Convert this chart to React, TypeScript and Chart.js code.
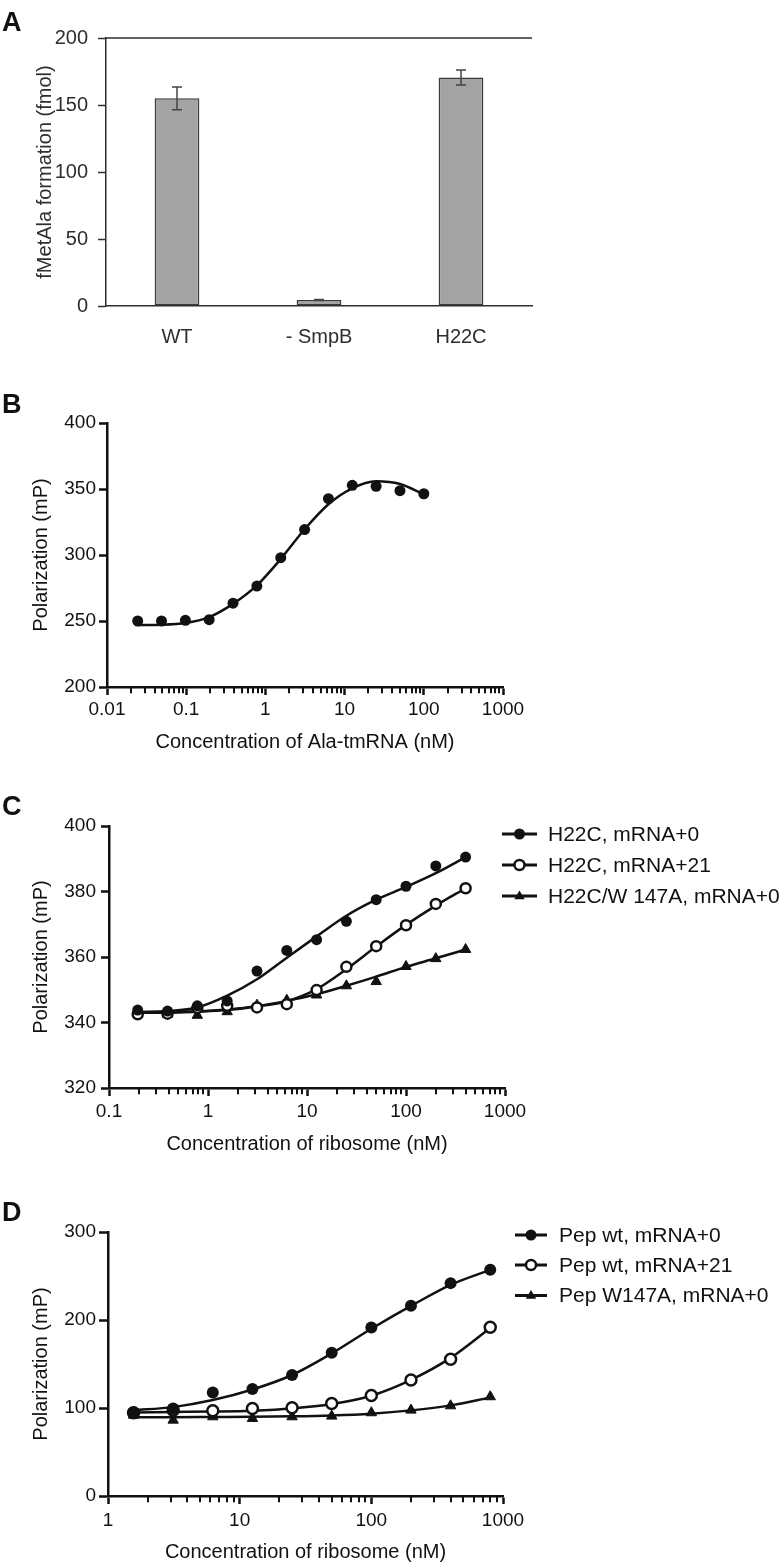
import React, { useEffect, useRef } from "react";
import { Chart, registerables } from "chart.js";
Chart.register(...registerables);

const FONT = "'Liberation Sans', Arial, Helvetica, sans-serif";
const INK = "#111111";
const INK_A = "#2e2e2e";

// ---------- Panel A data ----------
const catsA = ["WT", "- SmpB", "H22C"];
const valsA = [155, 4.5, 170.5];
const errA = [8.5, 0.4, 5.6];
const yTicksA = [0, 50, 100, 150, 200];

// ---------- Panel B data ----------
const concB = [0.0244, 0.0488, 0.0977, 0.195, 0.39, 0.78, 1.5625, 3.125, 6.25, 12.5, 25, 50, 100];
const polB = [250, 250, 250.5, 251, 263.5, 276.5, 298, 319.3, 342.7, 352.8, 352, 348.7, 346.4];
const fitB = [247, 247.2, 248.5, 253, 263, 277, 297, 319.5, 338.5, 350.5, 355.8, 353.8, 346];
const xTicksB = [0.01, 0.1, 1, 10, 100, 1000];
const xTickLabelsB = ["0.01", "0.1", "1", "10", "100", "1000"];
const yTicksB = [200, 250, 300, 350, 400];

// ---------- Panel C data ----------
const concC = [0.195, 0.39, 0.78, 1.5625, 3.125, 6.25, 12.5, 25, 50, 100, 200, 400];
const c_h22c_0 = [343.8, 343.5, 345.1, 346.6, 355.7, 362.0, 365.3, 370.9, 377.5, 381.6, 387.8, 390.5];
const c_h22c_21 = [342.5, 342.7, 344.4, 345.1, 344.6, 345.6, 349.9, 357.0, 363.3, 369.7, 376.2, 381.0];
const c_w147a = [343.0, 342.5, 342.2, 343.3, 345.3, 346.8, 348.4, 351.2, 352.5, 357.1, 359.5, 362.3];
const fitC_0 = [343.2, 343.5, 344.6, 348.2, 353.2, 359.8, 366.3, 372.6, 377.5, 381.4, 385.6, 390.5];
const fitC_21 = [343, 343, 343.3, 343.8, 344.9, 346.5, 350.2, 356.3, 363.2, 369.8, 375.7, 381];
const fitC_w = [343, 343.1, 343.4, 344, 345, 346.6, 348.6, 351.2, 354, 357, 359.6, 362.3];
const labelsC = ["H22C, mRNA+0", "H22C, mRNA+21", "H22C/W 147A, mRNA+0"];
const xTicksC = [0.1, 1, 10, 100, 1000];
const xTickLabelsC = ["0.1", "1", "10", "100", "1000"];
const yTicksC = [320, 340, 360, 380, 400];

// ---------- Panel D data ----------
const concD = [1.5625, 3.125, 6.25, 12.5, 25, 50, 100, 200, 400, 800];
const d_wt0 = [95, 99.5, 117.7, 121.5, 137.5, 162.9, 191.4, 216.1, 241.9, 257.1];
const d_wt21 = [94.6, 97.6, 96.8, 99.5, 100.3, 105.2, 114.3, 131.8, 155.3, 191.8];
const d_w147a = [91.9, 86.2, 90, 88.1, 90, 90.8, 94.6, 97.6, 102.5, 112.8];
const fitD_0 = [97.5, 101, 109, 121, 137.5, 162, 190, 216, 240, 257];
const fitD_21 = [95, 95.5, 96, 97, 99.5, 104.5, 114, 132, 157, 191];
const fitD_w = [89.5, 89.6, 89.8, 90, 90.5, 91.5, 93.5, 97.3, 103, 112];
const labelsD = ["Pep wt, mRNA+0", "Pep wt, mRNA+21", "Pep W147A, mRNA+0"];
const xTicksD = [1, 10, 100, 1000];
const xTickLabelsD = ["1", "10", "100", "1000"];
const yTicksD = [0, 100, 200, 300];

const minorMultipliers = [2, 3, 4, 5, 6, 7, 8, 9];
const markerStyles = ["filled", "open", "triangle"];

// ---------- plugins ----------
const errorBarPlugin = {
  id: "errorBarsA",
  afterDatasetsDraw(chart: any) {
    const { ctx } = chart;
    const x = chart.scales.x;
    const y = chart.scales.y;
    ctx.save();
    ctx.strokeStyle = "#444";
    ctx.lineWidth = 1.5;
    valsA.forEach((v, i) => {
      const px = x.getPixelForValue(i);
      const t = y.getPixelForValue(v + errA[i]);
      const b = y.getPixelForValue(v - errA[i]);
      ctx.beginPath();
      ctx.moveTo(px, t);
      ctx.lineTo(px, b);
      ctx.moveTo(px - 5, t);
      ctx.lineTo(px + 5, t);
      ctx.moveTo(px - 5, b);
      ctx.lineTo(px + 5, b);
      ctx.stroke();
    });
    ctx.restore();
  },
};

const topLinePlugin = {
  id: "topLineA",
  afterDraw(chart: any) {
    const { ctx, chartArea } = chart;
    ctx.save();
    ctx.strokeStyle = INK_A;
    ctx.lineWidth = 1.5;
    ctx.beginPath();
    ctx.moveTo(chartArea.left, chartArea.top);
    ctx.lineTo(chartArea.right, chartArea.top);
    ctx.stroke();
    ctx.restore();
  },
};

function minorTicksPlugin(len: number) {
  return {
    id: "minorTicks",
    afterDraw(chart: any) {
      const { ctx, chartArea } = chart;
      const xs = chart.scales.x;
      const min = xs.min;
      const max = xs.max;
      ctx.save();
      ctx.strokeStyle = INK;
      ctx.lineWidth = 2;
      ctx.beginPath();
      for (let d = Math.floor(Math.log10(min)); d < Math.log10(max); d++) {
        for (const k of minorMultipliers) {
          const v = k * Math.pow(10, d);
          if (v <= min || v >= max) continue;
          const px = Math.round(xs.getPixelForValue(v));
          ctx.moveTo(px, chartArea.bottom);
          ctx.lineTo(px, chartArea.bottom + 1.25 + len);
        }
      }
      ctx.stroke();
      ctx.restore();
    },
  };
}

function drawMarker(ctx: any, style: string, x: number, y: number, r: number) {
  ctx.save();
  ctx.fillStyle = INK;
  ctx.strokeStyle = INK;
  if (style === "filled") {
    ctx.beginPath();
    ctx.arc(x, y, r, 0, Math.PI * 2);
    ctx.fill();
  } else if (style === "open") {
    ctx.beginPath();
    ctx.arc(x, y, r - 0.5, 0, Math.PI * 2);
    ctx.fillStyle = "#fff";
    ctx.fill();
    ctx.lineWidth = 2.5;
    ctx.stroke();
  } else {
    ctx.beginPath();
    ctx.moveTo(x, y - r);
    ctx.lineTo(x + r * 0.95, y + r * 0.6);
    ctx.lineTo(x - r * 0.95, y + r * 0.6);
    ctx.closePath();
    ctx.fill();
  }
  ctx.restore();
}

function legendPlugin(labels: string[], lineX0: number, lineX1: number, textX: number, rowsY: number[]) {
  return {
    id: "customLegend",
    afterDraw(chart: any) {
      const { ctx } = chart;
      labels.forEach((label, i) => {
        const y = rowsY[i];
        ctx.save();
        ctx.strokeStyle = INK;
        ctx.lineWidth = 3;
        ctx.beginPath();
        ctx.moveTo(lineX0, y);
        ctx.lineTo(lineX1, y);
        ctx.stroke();
        ctx.restore();
        drawMarker(ctx, markerStyles[i], (lineX0 + lineX1) / 2, y, 5.5);
        ctx.save();
        ctx.fillStyle = INK;
        ctx.font = `21px ${FONT}`;
        ctx.textAlign = "left";
        ctx.textBaseline = "middle";
        ctx.fillText(label, textX, y + 1);
        ctx.restore();
      });
    },
  };
}

// ---------- helpers ----------
function pts(xs: number[], ys: number[]) {
  return xs.map((x, i) => ({ x, y: ys[i] }));
}

function pointSet(label: string, xs: number[], ys: number[], style: string, r: number) {
  const base: any = {
    label,
    data: pts(xs, ys),
    showLine: false,
    order: 0,
    pointRadius: r,
    pointHoverRadius: r,
  };
  if (style === "filled") {
    return { ...base, pointStyle: "circle", backgroundColor: INK, borderColor: INK, borderWidth: 0 };
  }
  if (style === "open") {
    return { ...base, pointStyle: "circle", pointRadius: r - 0.5, backgroundColor: "#fff", borderColor: INK, borderWidth: 2.5 };
  }
  return { ...base, pointStyle: "triangle", pointRadius: r + 0.5, backgroundColor: INK, borderColor: INK, borderWidth: 1 };
}

function curveSet(xs: number[], ys: number[]) {
  return {
    label: "fit",
    data: pts(xs, ys),
    showLine: true,
    order: 1,
    pointRadius: 0,
    pointHoverRadius: 0,
    borderColor: INK,
    borderWidth: 2.5,
    fill: false,
    cubicInterpolationMode: "monotone",
  };
}

function logX(min: number, max: number, ticks: number[], labels: string[], height: number, title: string, titlePadBottom: number, labelPad: number) {
  return {
    type: "logarithmic",
    position: "bottom",
    min,
    max,
    afterBuildTicks: (s: any) => {
      s.ticks = ticks.map((v) => ({ value: v, major: true }));
    },
    afterFit: (s: any) => {
      s.height = height;
    },
    ticks: {
      autoSkip: false,
      maxRotation: 0,
      padding: labelPad,
      color: INK,
      font: { family: FONT, size: 19 },
      callback: (v: any) => {
        const idx = ticks.findIndex((t) => Math.abs(t - v) / t < 1e-6);
        return idx >= 0 ? labels[idx] : "";
      },
    },
    grid: { drawOnChartArea: false, drawTicks: true, tickLength: 8, tickWidth: 2.5, tickColor: INK },
    border: { display: true, width: 2.5, color: INK },
    title: {
      display: !!title,
      text: title,
      color: INK,
      font: { family: FONT, size: 20 },
      padding: { top: 0, bottom: titlePadBottom },
    },
  };
}

function linY(min: number, max: number, ticks: number[], width: number, title: string, titlePadTop: number, tickLen: number, labelPad: number, color: string, bw: number, fontSize: number) {
  return {
    type: "linear",
    position: "left",
    min,
    max,
    afterBuildTicks: (s: any) => {
      s.ticks = ticks.map((v) => ({ value: v }));
    },
    afterFit: (s: any) => {
      s.width = width;
    },
    ticks: {
      padding: labelPad,
      color,
      font: { family: FONT, size: fontSize },
    },
    grid: { drawOnChartArea: false, drawTicks: true, tickLength: tickLen, tickWidth: bw, tickColor: color },
    border: { display: true, width: bw, color },
    title: {
      display: true,
      text: title,
      color,
      font: { family: FONT, size: 20 },
      padding: { top: titlePadTop, bottom: 0 },
    },
  };
}

const baseOptions = {
  responsive: false,
  maintainAspectRatio: false,
  animation: false,
  events: [],
  devicePixelRatio: 1,
};

// ---------- configs ----------
function configA() {
  return {
    type: "bar",
    data: {
      labels: catsA,
      datasets: [
        {
          label: "fMetAla",
          data: valsA,
          backgroundColor: "#a3a3a3",
          borderColor: "#3a3a3a",
          borderWidth: 1.5,
          borderSkipped: false,
          categoryPercentage: 1,
          barPercentage: 0.315,
        },
      ],
    },
    options: {
      ...baseOptions,
      layout: { padding: { top: 38, right: 248, left: 0, bottom: 0 } },
      plugins: { legend: { display: false }, tooltip: { enabled: false } },
      scales: {
        x: {
          type: "category",
          afterFit: (s: any) => {
            s.height = 64;
          },
          ticks: { padding: 19, color: INK_A, font: { family: FONT, size: 20 } },
          grid: { drawOnChartArea: false, drawTicks: false },
          border: { display: true, width: 1.5, color: INK_A },
        },
        y: linY(0, 200, yTicksA, 106, "fMetAla formation (fmol)", 33, 8, 10, INK_A, 1.5, 20),
      },
    },
    plugins: [errorBarPlugin, topLinePlugin],
  };
}

function configB() {
  return {
    type: "scatter",
    data: {
      datasets: [pointSet("Ala-tmRNA", concB, polB, "filled", 5.5), curveSet(concB, fitB)],
    },
    options: {
      ...baseOptions,
      layout: { padding: { top: 53, right: 277, left: 0, bottom: 0 } },
      plugins: { legend: { display: false }, tooltip: { enabled: false } },
      scales: {
        x: logX(0.01, 1000, xTicksB, xTickLabelsB, 83, "Concentration of Ala-tmRNA (nM)", 16, 3.5),
        y: linY(200, 400, yTicksB, 107, "Polarization (mP)", 29, 8, 3, INK, 2.5, 19),
      },
    },
    plugins: [minorTicksPlugin(5)],
  };
}

function configC() {
  return {
    type: "scatter",
    data: {
      datasets: [
        pointSet(labelsC[0], concC, c_h22c_0, "filled", 5.5),
        pointSet(labelsC[1], concC, c_h22c_21, "open", 5.5),
        pointSet(labelsC[2], concC, c_w147a, "triangle", 5.5),
        curveSet(concC, fitC_0),
        curveSet(concC, fitC_21),
        curveSet(concC, fitC_w),
      ],
    },
    options: {
      ...baseOptions,
      layout: { padding: { top: 56, right: 275, left: 0, bottom: 0 } },
      plugins: { legend: { display: false }, tooltip: { enabled: false } },
      scales: {
        x: logX(0.1, 1000, xTicksC, xTickLabelsC, 82, "Concentration of ribosome (nM)", 14, 4.5),
        y: linY(320, 400, yTicksC, 109, "Polarization (mP)", 29, 8, 5, INK, 2.5, 19),
      },
    },
    plugins: [minorTicksPlugin(5), legendPlugin(labelsC, 502, 537, 548, [64, 95, 126])],
  };
}

function configD() {
  return {
    type: "scatter",
    data: {
      datasets: [
        pointSet(labelsD[0], concD, d_wt0, "filled", 6),
        pointSet(labelsD[1], concD, d_wt21, "open", 6),
        pointSet(labelsD[2], concD, d_w147a, "triangle", 5.5),
        curveSet(concD, fitD_0),
        curveSet(concD, fitD_21),
        curveSet(concD, fitD_w),
      ],
    },
    options: {
      ...baseOptions,
      layout: { padding: { top: 62, right: 277, left: 0, bottom: 0 } },
      plugins: { legend: { display: false }, tooltip: { enabled: false } },
      scales: {
        x: logX(1, 1000, xTicksD, xTickLabelsD, 68, "Concentration of ribosome (nM)", 0, 5),
        y: linY(0, 300, yTicksD, 108, "Polarization (mP)", 29, 9, 3, INK, 2.5, 19),
      },
    },
    plugins: [minorTicksPlugin(5), legendPlugin(labelsD, 515, 547, 559, [65, 95, 125.5])],
  };
}

function Panel({ top, height, width, make }: { top: number; height: number; width: number; make: () => any }) {
  const ref = useRef<HTMLCanvasElement | null>(null);
  useEffect(() => {
    if (!ref.current) return;
    const chart = new Chart(ref.current, make());
    return () => chart.destroy();
  }, []);
  return (
    <canvas
      ref={ref}
      width={width}
      height={height}
      style={{ position: "absolute", left: 0, top, width, height, display: "block" }}
    />
  );
}

const letterStyle = (top: number): React.CSSProperties => ({
  position: "absolute",
  left: 2,
  top,
  fontFamily: FONT,
  fontWeight: 700,
  fontSize: 27,
  lineHeight: "27px",
  color: "#111",
  margin: 0,
});

export default function App() {
  return (
    <div style={{ position: "absolute", left: 0, top: 0, width: 780, height: 1564, background: "#fff", overflow: "hidden" }}>
      <Panel top={0} height={370} width={780} make={configA} />
      <Panel top={370} height={400} width={780} make={configB} />
      <Panel top={770} height={400} width={780} make={configC} />
      <Panel top={1170} height={394} width={780} make={configD} />
      <div style={letterStyle(9)}>A</div>
      <div style={letterStyle(391)}>B</div>
      <div style={letterStyle(793)}>C</div>
      <div style={letterStyle(1199)}>D</div>
    </div>
  );
}
